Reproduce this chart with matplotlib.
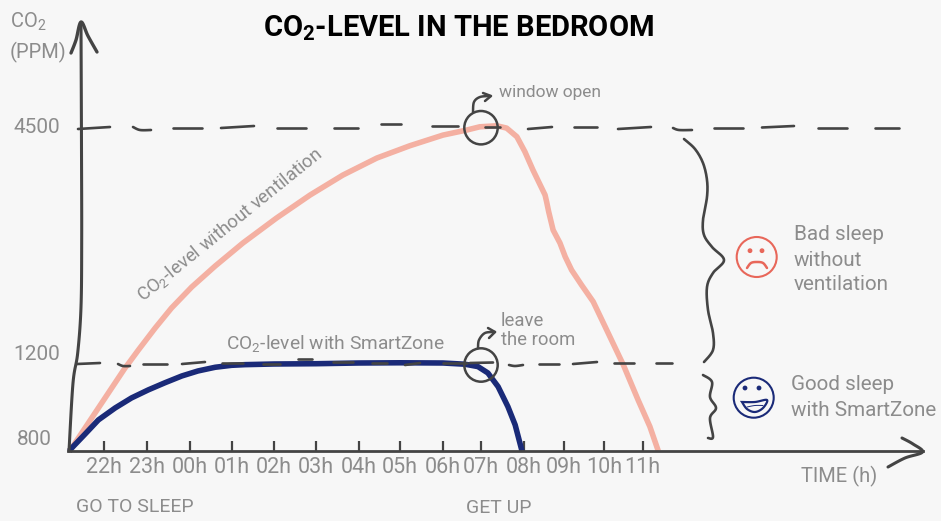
import numpy as np
import matplotlib
matplotlib.use("Agg")
import matplotlib.pyplot as plt
from matplotlib.patches import Circle, Polygon

plt.rcParams["font.family"] = ["Roboto", "DejaVu Sans"]
plt.rcParams["mathtext.default"] = "regular"

#=================
#data
#=================
hour_labels = ["22h", "23h", "00h", "01h", "02h", "03h", "04h", "05h",
               "06h", "07h", "08h", "09h", "10h", "11h"]
hour_ticks = list(range(14))  # hours after 22h

ppm_labels = ["800", "1200", "4500"]
ppm_ticks = [800, 1200, 4500]

no_vent_hours = [-0.81, -0.75, -0.44, -0.13, 0.18, 0.49, 0.56, 0.80, 1.19, 1.57, 2.04, 2.60, 3.26,
                 4.06, 4.86, 5.63, 6.44, 7.23, 8.0, 8.62, 8.97, 9.37, 9.6, 9.84, 10.03, 10.23,
                 10.53, 10.57, 10.62, 10.73, 10.9, 11.03, 11.19, 11.44, 11.73, 12.03, 12.46, 12.49,
                 12.88, 13.18, 13.39]
no_vent_ppm = [800, 814, 906, 998, 1090, 1182, 1200, 1396, 1703, 1983, 2276, 2570, 2892,
               3241, 3563, 3842, 4080, 4252, 4401, 4471, 4517, 4531, 4499, 4378, 4168, 3912,
               3563, 3465, 3329, 3073, 2892, 2700, 2514, 2304, 2071, 1721, 1232, 1200,
               1035, 912, 800]

smart_hours = [-0.81, -0.75, -0.44, -0.13, 0.26, 0.64, 1.03, 1.42, 1.81, 2.19, 2.6, 2.99, 3.31,
               4.0, 5.0, 6.0, 7.0, 8.0, 8.58, 8.92, 9.16, 9.4, 9.63, 9.8, 9.96]
smart_ppm = [800, 814, 878, 943, 998, 1044, 1081, 1114, 1145, 1168, 1185, 1194, 1197,
             1200, 1204, 1214, 1217, 1214, 1199, 1188, 1159, 1096, 1004, 920, 800]

# the axes are hand drawn, so the ticks are not evenly spaced
hour_grid = [-2.42, 0, 1, 2, 3, 4, 5, 6, 7, 8, 9, 10, 11, 12, 13, 20.46]
hour_px = [0, 104, 147, 190, 232, 274, 316, 358.7, 400, 443, 481, 523.7, 564, 604, 642.7, 941]
ppm_grid = [478, 800, 1200, 4500, 6290]
ppm_px = [0, 70, 157, 393, 521]


def smooth(points, n=12):
    # catmull-rom through the sketch points
    p = np.array(points, dtype=float)
    p = np.vstack([p[0], p, p[-1]])
    out = []
    t = np.linspace(0, 1, n, endpoint=False)[:, None]
    for i in range(1, len(p) - 2):
        a, b, c, d = p[i - 1], p[i], p[i + 1], p[i + 2]
        out.append(0.5 * (2 * b + (c - a) * t + (2 * a - 5 * b + 4 * c - d) * t ** 2
                          + (3 * b - a - 3 * c + d) * t ** 3))
    out.append(p[-2:-1])
    return np.vstack(out)


#=================
#main axes
#=================
BG = "#f7f7f7"
INK = "#444444"
GREY = "#8c8c8c"
PINK = "#f4b0a2"
NAVY = "#1a2a78"
RED = "#e8675a"

fig = plt.figure(figsize=(9.41, 5.21), dpi=100, facecolor=BG)
ax = fig.add_axes([0, 0, 1, 1], facecolor=BG)
ax.set_xscale("function", functions=(lambda v: np.interp(v, hour_grid, hour_px),
                                     lambda v: np.interp(v, hour_px, hour_grid)))
ax.set_yscale("function", functions=(lambda v: np.interp(v, ppm_grid, ppm_px),
                                     lambda v: np.interp(v, ppm_px, ppm_grid)))
ax.set_xlim(hour_grid[0], hour_grid[-1])
ax.set_ylim(ppm_grid[0], ppm_grid[-1])

ax.plot(no_vent_hours, no_vent_ppm, color=PINK, lw=4.0, solid_joinstyle="round", solid_capstyle="butt")
ax.plot(smart_hours, smart_ppm, color=NAVY, lw=4.0, solid_joinstyle="round", solid_capstyle="butt")

for s in ["top", "left", "right"]:
    ax.spines[s].set_visible(False)
ax.spines["bottom"].set_position(("data", 800))
ax.spines["bottom"].set_bounds(-0.83, 20)
ax.spines["bottom"].set_color(INK)
ax.spines["bottom"].set_linewidth(2.0)

ax.set_xticks(hour_ticks, hour_labels)
ax.minorticks_off()
ax.tick_params(axis="x", direction="in", length=7.5, width=1.6, color=INK,
               labelcolor=GREY, labelsize=15.5, pad=4.5)
ax.set_yticks([])

for lab, val, px, dy in zip(ppm_labels, ppm_ticks, [52, 60, 60], [8.4, 7, 0.7]):
    ax.annotate(lab, xy=(0, val), xycoords=ax.get_yaxis_transform(), xytext=(px * 0.72, dy),
                textcoords="offset points", ha="right", va="center", color=GREY, fontsize=15)

#=================
#sketch layer, in pixels
#=================
sk = fig.add_axes([0, 0, 1, 1], facecolor="none")
sk.set_xlim(0, 941)
sk.set_ylim(521, 0)
sk.axis("off")


def stroke(points, lw=2.0, color=INK, curve=True):
    xy = smooth(points) if curve else np.array(points, dtype=float)
    sk.plot(xy[:, 0], xy[:, 1], color=color, lw=lw, solid_capstyle="round", solid_joinstyle="round")


# y axis and arrow heads
stroke([(81, 24), (81.5, 150), (81.7, 240), (81, 307), (77.7, 353), (73, 383), (69, 451)], lw=2.2)
stroke([(71, 53), (76, 40), (81, 22), (88, 36), (97, 52)], lw=2.4)
stroke([(902, 438), (913, 444), (922.5, 452), (905, 458), (888, 467)], lw=2.2)

dashes_top = [[(78, 129), (110, 127)], [(133, 127), (140, 130), (151, 130)], [(173, 128), (202, 128)],
              [(221, 128), (254, 126)], [(277, 127.5), (306, 127.5)], [(334, 127.5), (358, 127.5)],
              [(381, 124), (401, 124)], [(432, 126), (458, 126)], [(485, 127), (500, 127)],
              [(528, 129), (552, 127)], [(574, 127), (597, 127)], [(618, 129), (651, 127)],
              [(673, 128), (679, 130), (692, 130)], [(714, 127.5), (743, 127.5)],
              [(762, 127.5), (794, 126)], [(818, 127.5), (847, 127.5)], [(875, 127.5), (899, 127.5)]]
dashes_low = [[(77, 364), (100, 363)], [(118, 364), (123, 366), (130, 366)], [(143, 364), (167, 364)],
              [(182, 364), (205, 362)], [(222, 363), (243, 363)], [(263, 363.5), (280, 363.5)],
              [(298, 359), (312, 359)], [(333, 362), (353, 362)], [(372, 363), (387, 363)],
              [(405, 365), (420, 363)], [(443, 363), (467, 363)], [(470, 363), (493, 362.5)],
              [(509, 365), (515, 366), (523, 365)], [(539, 363.5), (559, 363.5)],
              [(573, 364), (597, 362)], [(614, 363), (634, 363)], [(656, 363), (672, 363)]]
for d in dashes_top + dashes_low:
    stroke(d, lw=1.9, curve=len(d) > 2)

# markers on the curves
for cy in [127.7, 365]:
    sk.add_patch(Circle((481, cy), 16.7, fill=False, ec=INK, lw=1.8))
stroke([(473, 112), (474, 102), (480, 97), (490, 96)], lw=1.8)
stroke([(483, 93), (491, 96), (485, 101)], lw=1.8, curve=False)
stroke([(478, 348), (479, 340), (485, 333), (495, 332)], lw=1.8)
stroke([(488, 328), (495, 332), (489, 338)], lw=1.8, curve=False)

# braces
stroke([(684, 139), (695, 149), (703, 163), (707, 180), (707, 197), (703, 220), (704, 235), (712, 247),
        (724, 260), (713, 273), (707, 287), (708, 310), (713, 333), (713, 350), (704, 362)], lw=1.9)
stroke([(703, 375), (712, 382), (710, 397), (716, 408), (710, 418), (713, 437), (708, 438)], lw=1.9)

# faces
sk.add_patch(Circle((756.7, 257), 20, fill=False, ec=RED, lw=1.5))
sk.add_patch(Circle((750, 250.7), 1.7, color=RED))
sk.add_patch(Circle((762, 250.7), 1.7, color=RED))
stroke([(747, 268), (751, 263), (757, 262), (763, 263), (767, 268)], lw=1.8, color=RED)
sk.add_patch(Circle((753.7, 397.7), 20, fill=False, ec=NAVY, lw=1.5))
sk.add_patch(Circle((745, 388), 1.7, color=NAVY))
sk.add_patch(Circle((759, 388), 1.7, color=NAVY))
mouth = smooth([(742, 402), (755, 402), (767, 400), (763, 408), (755, 412), (747, 409), (742, 402)])
sk.add_patch(Polygon(mouth, fill=False, ec=NAVY, lw=1.6))
stroke([(747, 407), (755, 405.5), (763, 405.5)], lw=0.7, color=NAVY)

# texts
sk.text(458, 28, "CO$_2$-LEVEL IN THE BEDROOM", ha="center", va="center",
        fontsize=21, fontweight="bold", color="black")
for x, y, s, size in [(10, 22, "CO$_2$", 14.5), (10, 52, "(PPM)", 14.5),
                      (499, 93, "window open", 12.5), (501, 321, "leave", 13.3), (501, 340, "the room", 13.3),
                      (226, 343, "CO$_2$-level with SmartZone", 13.8),
                      (794, 235, "Bad sleep", 14.9), (794, 260, "without", 14.9), (794, 285, "ventilation", 14.9),
                      (791, 384, "Good sleep", 14.9), (791, 410, "with SmartZone", 14.9),
                      (801, 476, "TIME (h)", 14.5), (76, 507, "GO TO SLEEP", 14), (466, 508, "GET UP", 14)]:
    sk.text(x, y, s, ha="left", va="center", color=GREY, fontsize=size)
sk.text(230, 225, "CO$_2$-level without ventilation", ha="center", va="center", rotation=39,
        rotation_mode="anchor", color=GREY, fontsize=13.3)

fig.savefig("out.png", dpi=100, facecolor=BG)
